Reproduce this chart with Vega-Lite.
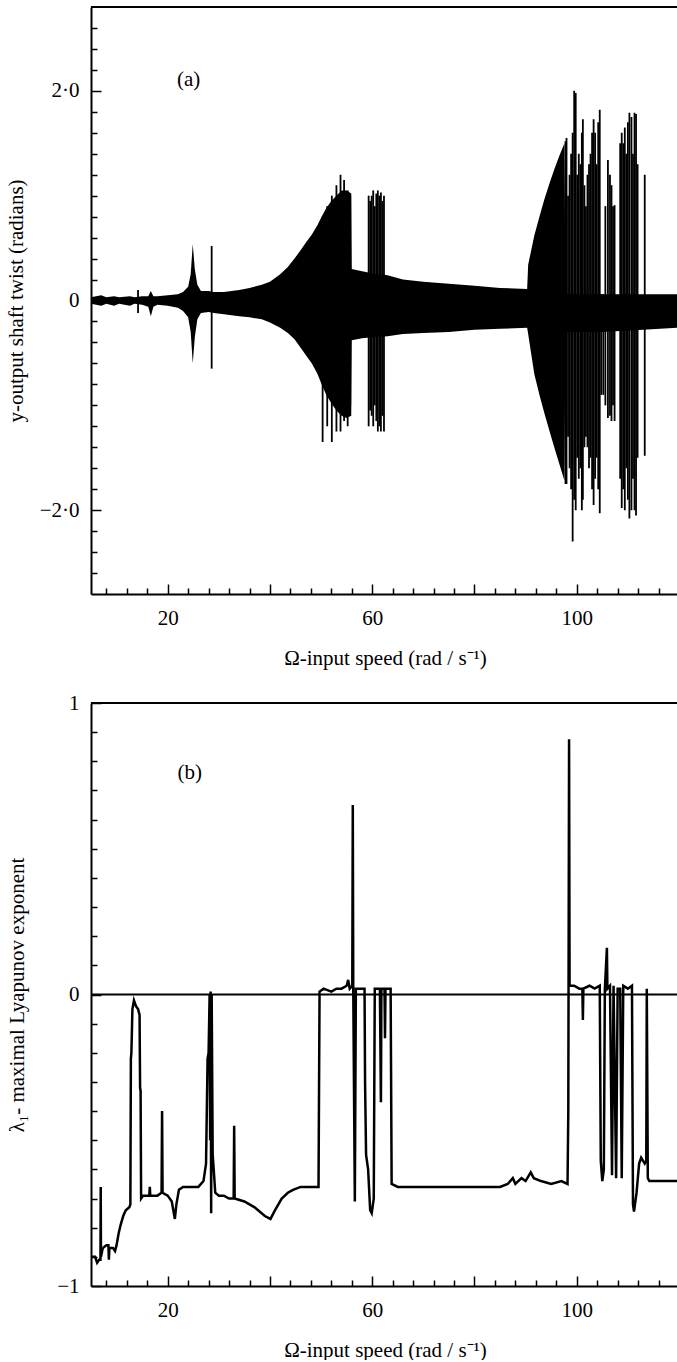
{
  "$schema": "https://vega.github.io/schema/vega-lite/v6.json",
  "background": "white",
  "padding": {"left": 5, "top": 6, "right": 0, "bottom": 0},
  "spacing": 24,
  "config": {
    "view": {"stroke": null},
    "font": "Liberation Serif",
    "axis": {
      "grid": false,
      "domainColor": "black",
      "domainWidth": 2,
      "tickColor": "black",
      "tickWidth": 1.5,
      "labelColor": "black",
      "labelFont": "Liberation Serif",
      "labelFontSize": 21,
      "labelOverlap": false,
      "labelFlush": false,
      "titleColor": "black",
      "titleFont": "Liberation Serif",
      "titleFontSize": 21,
      "titleFontWeight": "normal"
    }
  },
  "datasets": {
    "env": [
      {"x": 5, "lo": -0.03, "hi": 0.03},
      {"x": 6, "lo": -0.04, "hi": 0.04},
      {"x": 7, "lo": -0.05, "hi": 0.05},
      {"x": 8, "lo": -0.03, "hi": 0.03},
      {"x": 9.5, "lo": -0.05, "hi": 0.04},
      {"x": 10.5, "lo": -0.03, "hi": 0.03},
      {"x": 12.6, "lo": -0.05, "hi": 0.04},
      {"x": 13.5, "lo": -0.03, "hi": 0.03},
      {"x": 15, "lo": -0.04, "hi": 0.04},
      {"x": 16.2, "lo": -0.06, "hi": 0.04},
      {"x": 16.7, "lo": -0.15, "hi": 0.09},
      {"x": 17.2, "lo": -0.06, "hi": 0.04},
      {"x": 18, "lo": -0.04, "hi": 0.04},
      {"x": 20, "lo": -0.05, "hi": 0.05},
      {"x": 22, "lo": -0.07, "hi": 0.06},
      {"x": 23, "lo": -0.1, "hi": 0.08},
      {"x": 24, "lo": -0.16, "hi": 0.13},
      {"x": 24.5, "lo": -0.3, "hi": 0.25},
      {"x": 24.9, "lo": -0.6, "hi": 0.54},
      {"x": 25.3, "lo": -0.35, "hi": 0.3},
      {"x": 25.8, "lo": -0.18, "hi": 0.15},
      {"x": 26.5, "lo": -0.12, "hi": 0.09},
      {"x": 28, "lo": -0.11, "hi": 0.09},
      {"x": 29, "lo": -0.12, "hi": 0.08},
      {"x": 31, "lo": -0.13, "hi": 0.08},
      {"x": 34, "lo": -0.15, "hi": 0.1},
      {"x": 36, "lo": -0.16, "hi": 0.12},
      {"x": 38.4, "lo": -0.18, "hi": 0.15},
      {"x": 40, "lo": -0.21, "hi": 0.18},
      {"x": 42, "lo": -0.26, "hi": 0.25},
      {"x": 43.5, "lo": -0.31, "hi": 0.32},
      {"x": 44.8, "lo": -0.37, "hi": 0.4},
      {"x": 46, "lo": -0.45, "hi": 0.48},
      {"x": 47, "lo": -0.52, "hi": 0.55},
      {"x": 48.2, "lo": -0.6, "hi": 0.63},
      {"x": 49.3, "lo": -0.7, "hi": 0.72},
      {"x": 50.1, "lo": -0.8, "hi": 0.8},
      {"x": 51, "lo": -0.9, "hi": 0.88},
      {"x": 52, "lo": -0.98, "hi": 0.95},
      {"x": 53, "lo": -1.05, "hi": 1.0},
      {"x": 54, "lo": -1.1, "hi": 1.05},
      {"x": 55, "lo": -1.12, "hi": 1.05},
      {"x": 55.9, "lo": -1.1, "hi": 1.02},
      {"x": 56, "lo": -0.38, "hi": 0.3},
      {"x": 58, "lo": -0.36, "hi": 0.28},
      {"x": 60, "lo": -0.35, "hi": 0.26},
      {"x": 63, "lo": -0.34, "hi": 0.24},
      {"x": 66, "lo": -0.32, "hi": 0.2},
      {"x": 70, "lo": -0.31, "hi": 0.18},
      {"x": 75, "lo": -0.3, "hi": 0.16},
      {"x": 80, "lo": -0.28, "hi": 0.14},
      {"x": 85, "lo": -0.27, "hi": 0.12},
      {"x": 90.3, "lo": -0.26, "hi": 0.11},
      {"x": 90.5, "lo": -0.32, "hi": 0.34},
      {"x": 91.7, "lo": -0.7, "hi": 0.62},
      {"x": 92.7, "lo": -0.9, "hi": 0.8},
      {"x": 93.7, "lo": -1.08, "hi": 0.97},
      {"x": 94.7, "lo": -1.25, "hi": 1.12},
      {"x": 95.6, "lo": -1.4, "hi": 1.25},
      {"x": 96.6, "lo": -1.56, "hi": 1.38},
      {"x": 97.6, "lo": -1.72, "hi": 1.5},
      {"x": 97.8, "lo": -0.3, "hi": 0.06},
      {"x": 105, "lo": -0.3, "hi": 0.06},
      {"x": 113, "lo": -0.28, "hi": 0.06},
      {"x": 120, "lo": -0.26, "hi": 0.06}
    ],
    "spk": [
      {"x": 14.2, "lo": -0.12, "hi": 0.1},
      {"x": 28.6, "lo": -0.65, "hi": 0.52},
      {"x": 50.3, "lo": -1.35, "hi": 0.8},
      {"x": 51.2, "lo": -1.2, "hi": 0.9},
      {"x": 52.1, "lo": -1.35, "hi": 1.0},
      {"x": 53.0, "lo": -1.25, "hi": 1.1},
      {"x": 53.8, "lo": -1.25, "hi": 1.2},
      {"x": 54.5, "lo": -1.15, "hi": 1.15},
      {"x": 55.2, "lo": -1.2, "hi": 1.05},
      {"x": 55.7, "lo": -1.0, "hi": 1.0},
      {"x": 59.3, "lo": -1.2, "hi": 1.0},
      {"x": 59.6, "lo": -1.05, "hi": 0.95},
      {"x": 59.9, "lo": -1.1, "hi": 1.0},
      {"x": 60.2, "lo": -1.2, "hi": 1.05},
      {"x": 60.5, "lo": -1.0, "hi": 0.9},
      {"x": 60.8, "lo": -1.15, "hi": 1.02},
      {"x": 61.1, "lo": -1.25, "hi": 1.05},
      {"x": 61.4, "lo": -1.2, "hi": 1.0},
      {"x": 61.7, "lo": -1.25, "hi": 1.03},
      {"x": 62.0, "lo": -1.1, "hi": 0.95},
      {"x": 62.3, "lo": -1.25, "hi": 1.0},
      {"x": 97.8, "lo": -1.75, "hi": 1.52},
      {"x": 98.0, "lo": -1.75, "hi": 1.55},
      {"x": 98.3, "lo": -1.3, "hi": 1.0},
      {"x": 98.6, "lo": -1.6, "hi": 1.2},
      {"x": 98.9, "lo": -1.8, "hi": 1.4},
      {"x": 99.2, "lo": -2.3, "hi": 1.6},
      {"x": 99.5, "lo": -1.9, "hi": 2.0},
      {"x": 99.8, "lo": -2.0, "hi": 1.98},
      {"x": 100.1, "lo": -1.5, "hi": 1.2},
      {"x": 100.4, "lo": -1.7, "hi": 1.4},
      {"x": 100.7, "lo": -1.6, "hi": 1.3},
      {"x": 101.0, "lo": -2.0, "hi": 1.6},
      {"x": 101.2, "lo": -1.9, "hi": 1.73},
      {"x": 101.5, "lo": -1.4, "hi": 1.1},
      {"x": 101.8, "lo": -1.3, "hi": 0.9},
      {"x": 102.1, "lo": -1.4, "hi": 1.2},
      {"x": 102.4, "lo": -1.6, "hi": 1.3},
      {"x": 102.7, "lo": -1.5, "hi": 1.4},
      {"x": 103.0, "lo": -1.8, "hi": 1.6},
      {"x": 103.3, "lo": -1.95, "hi": 1.73},
      {"x": 103.6, "lo": -1.7, "hi": 1.6},
      {"x": 103.9, "lo": -1.5, "hi": 1.3},
      {"x": 104.2, "lo": -1.8, "hi": 1.7},
      {"x": 104.5, "lo": -2.03, "hi": 1.82},
      {"x": 104.8, "lo": -0.9, "hi": 0.06},
      {"x": 105.2, "lo": -0.9, "hi": 0.06},
      {"x": 105.6, "lo": -1.0, "hi": 0.9},
      {"x": 106.1, "lo": -1.12, "hi": 1.34},
      {"x": 106.5, "lo": -1.1, "hi": 1.2},
      {"x": 106.8, "lo": -1.15, "hi": 1.1},
      {"x": 107.1, "lo": -1.0, "hi": 0.9},
      {"x": 107.4, "lo": -1.15, "hi": 0.91},
      {"x": 108.5, "lo": -1.7, "hi": 1.5},
      {"x": 108.8, "lo": -1.98, "hi": 1.6},
      {"x": 109.1, "lo": -1.8, "hi": 1.5},
      {"x": 109.4, "lo": -2.0, "hi": 1.65},
      {"x": 109.7, "lo": -1.6, "hi": 1.4},
      {"x": 110.0, "lo": -1.9, "hi": 1.7},
      {"x": 110.3, "lo": -2.08, "hi": 1.79},
      {"x": 110.7, "lo": -2.0, "hi": 1.75},
      {"x": 111.0, "lo": -1.7, "hi": 1.4},
      {"x": 111.3, "lo": -2.0, "hi": 1.79},
      {"x": 111.6, "lo": -2.05, "hi": 1.78},
      {"x": 111.9, "lo": -1.5, "hi": 1.3},
      {"x": 113.3, "lo": -1.48, "hi": 1.2}
    ],
    "lyap": [
      {"x": 5.0, "y": -0.9}, {"x": 5.8, "y": -0.9}, {"x": 6.2, "y": -0.92}, {"x": 6.6, "y": -0.91},
      {"x": 6.85, "y": -0.91}, {"x": 6.9, "y": -0.66}, {"x": 6.95, "y": -0.9}, {"x": 7.3, "y": -0.87},
      {"x": 8.0, "y": -0.86}, {"x": 8.4, "y": -0.86}, {"x": 8.5, "y": -0.91}, {"x": 8.6, "y": -0.87},
      {"x": 9.3, "y": -0.87}, {"x": 9.7, "y": -0.88}, {"x": 10.0, "y": -0.86}, {"x": 10.4, "y": -0.82},
      {"x": 10.8, "y": -0.79}, {"x": 11.3, "y": -0.76}, {"x": 11.8, "y": -0.74}, {"x": 12.5, "y": -0.73},
      {"x": 12.7, "y": -0.72}, {"x": 12.8, "y": -0.22}, {"x": 12.9, "y": -0.2}, {"x": 13.1, "y": -0.05},
      {"x": 13.4, "y": -0.02}, {"x": 13.8, "y": -0.04}, {"x": 14.2, "y": -0.05}, {"x": 14.5, "y": -0.07},
      {"x": 14.6, "y": -0.32}, {"x": 14.7, "y": -0.33}, {"x": 14.8, "y": -0.7}, {"x": 15.2, "y": -0.69},
      {"x": 16.0, "y": -0.69}, {"x": 16.4, "y": -0.69}, {"x": 16.5, "y": -0.66}, {"x": 16.6, "y": -0.69},
      {"x": 18.0, "y": -0.69}, {"x": 18.8, "y": -0.68}, {"x": 18.9, "y": -0.4}, {"x": 19.0, "y": -0.68},
      {"x": 20.0, "y": -0.69}, {"x": 20.8, "y": -0.71}, {"x": 21.4, "y": -0.77}, {"x": 21.7, "y": -0.72},
      {"x": 22.2, "y": -0.67}, {"x": 23.0, "y": -0.66}, {"x": 26.0, "y": -0.66}, {"x": 27.0, "y": -0.64},
      {"x": 27.5, "y": -0.58}, {"x": 27.8, "y": -0.22}, {"x": 28.0, "y": -0.2}, {"x": 28.2, "y": 0.0},
      {"x": 28.3, "y": -0.5}, {"x": 28.4, "y": 0.01}, {"x": 28.5, "y": -0.75}, {"x": 28.6, "y": 0.0},
      {"x": 28.8, "y": -0.55}, {"x": 29.0, "y": -0.6}, {"x": 29.3, "y": -0.68}, {"x": 30.0, "y": -0.69},
      {"x": 31.0, "y": -0.69}, {"x": 32.0, "y": -0.7}, {"x": 32.9, "y": -0.7}, {"x": 33.0, "y": -0.45},
      {"x": 33.1, "y": -0.7}, {"x": 35.0, "y": -0.71}, {"x": 37.0, "y": -0.73}, {"x": 39.0, "y": -0.76},
      {"x": 40.1, "y": -0.77}, {"x": 41.0, "y": -0.74}, {"x": 42.3, "y": -0.7}, {"x": 43.5, "y": -0.68},
      {"x": 44.5, "y": -0.67}, {"x": 46.0, "y": -0.66}, {"x": 47.2, "y": -0.66}, {"x": 49.5, "y": -0.66},
      {"x": 49.7, "y": 0.01}, {"x": 50.5, "y": 0.02}, {"x": 52.0, "y": 0.01}, {"x": 53.0, "y": 0.02},
      {"x": 54.0, "y": 0.02}, {"x": 55.0, "y": 0.03}, {"x": 55.3, "y": 0.05}, {"x": 55.6, "y": 0.02},
      {"x": 56.1, "y": 0.03}, {"x": 56.2, "y": 0.65}, {"x": 56.3, "y": 0.0}, {"x": 56.6, "y": -0.71},
      {"x": 56.8, "y": 0.02}, {"x": 57.5, "y": 0.02}, {"x": 58.5, "y": 0.02}, {"x": 58.6, "y": -0.3},
      {"x": 58.8, "y": -0.55}, {"x": 59.2, "y": -0.6}, {"x": 59.6, "y": -0.74}, {"x": 59.9, "y": -0.75},
      {"x": 60.3, "y": -0.7}, {"x": 60.5, "y": 0.02}, {"x": 61.5, "y": 0.02}, {"x": 61.7, "y": -0.37},
      {"x": 61.8, "y": 0.02}, {"x": 62.4, "y": 0.02}, {"x": 62.5, "y": -0.15}, {"x": 62.6, "y": 0.02},
      {"x": 63.6, "y": 0.02}, {"x": 63.8, "y": -0.65}, {"x": 65, "y": -0.66}, {"x": 70, "y": -0.66},
      {"x": 75, "y": -0.66}, {"x": 80, "y": -0.66}, {"x": 85, "y": -0.66}, {"x": 86.5, "y": -0.65},
      {"x": 87.5, "y": -0.63}, {"x": 88, "y": -0.65}, {"x": 89.2, "y": -0.63}, {"x": 90, "y": -0.64},
      {"x": 91, "y": -0.61}, {"x": 91.6, "y": -0.63}, {"x": 93, "y": -0.64}, {"x": 95, "y": -0.65},
      {"x": 97, "y": -0.64}, {"x": 98.2, "y": -0.65}, {"x": 98.35, "y": -0.4}, {"x": 98.5, "y": 0.876},
      {"x": 98.6, "y": 0.03}, {"x": 99.5, "y": 0.03}, {"x": 100.5, "y": 0.02}, {"x": 101.1, "y": 0.02},
      {"x": 101.2, "y": -0.087}, {"x": 101.3, "y": 0.02}, {"x": 102.5, "y": 0.03}, {"x": 103.5, "y": 0.02},
      {"x": 104.5, "y": 0.03}, {"x": 104.7, "y": -0.57}, {"x": 105.0, "y": -0.64}, {"x": 105.3, "y": -0.6},
      {"x": 105.5, "y": 0.02}, {"x": 105.9, "y": 0.16}, {"x": 106.0, "y": 0.02}, {"x": 106.5, "y": 0.03},
      {"x": 106.9, "y": -0.62}, {"x": 107.2, "y": 0.03}, {"x": 107.7, "y": -0.63}, {"x": 108.0, "y": 0.02},
      {"x": 108.5, "y": 0.02}, {"x": 108.8, "y": -0.63}, {"x": 109.1, "y": 0.03}, {"x": 110.0, "y": 0.02},
      {"x": 110.8, "y": 0.03}, {"x": 111.0, "y": -0.72}, {"x": 111.2, "y": -0.745}, {"x": 111.7, "y": -0.68},
      {"x": 112.2, "y": -0.58}, {"x": 112.6, "y": -0.56}, {"x": 113.3, "y": -0.58}, {"x": 113.6, "y": -0.57},
      {"x": 113.7, "y": 0.02}, {"x": 113.9, "y": -0.63}, {"x": 114.2, "y": -0.64}, {"x": 116, "y": -0.64},
      {"x": 118, "y": -0.64}, {"x": 120, "y": -0.64}
    ]
  },
  "vconcat": [
    {
      "width": 588,
      "height": 587,
      "layer": [
        {
          "data": {"name": "env"},
          "mark": {"type": "area", "color": "black", "interpolate": "linear"},
          "encoding": {
            "x": {
              "field": "x", "type": "quantitative",
              "scale": {"domain": [5, 120], "nice": false, "zero": false},
              "axis": {
                "orient": "bottom",
                "values": [8, 12, 16, 20, 24, 28, 32, 36, 40, 44, 48, 52, 56, 60, 64, 68, 72, 76, 80, 84, 88, 92, 96, 100, 104, 108, 112, 116, 120],
                "tickCount": 200,
                "labelExpr": "datum.value == 20 ? '20' : datum.value == 60 ? '60' : datum.value == 100 ? '100' : ''",
                "labelOverlap": false,
                "tickSize": {"condition": {"test": "datum.value % 20 == 0", "value": -10}, "value": -6},
                "labelPadding": 23,
                "title": "Ω-input speed (rad / s⁻¹)",
                "titlePadding": 15
              }
            },
            "y": {
              "field": "lo", "type": "quantitative",
              "scale": {"domain": [-2.8, 2.8], "nice": false, "zero": false},
              "axis": {
                "values": [-2.6, -2.4, -2.2, -2, -1.8, -1.6, -1.4, -1.2, -1, -0.8, -0.6, -0.4, -0.2, 0, 0.2, 0.4, 0.6, 0.8, 1, 1.2, 1.4, 1.6, 1.8, 2, 2.2, 2.4, 2.6],
                "tickCount": 200,
                "labelExpr": "datum.value == 2 ? '2·0' : datum.value == 0 ? '0' : datum.value == -2 ? '−2·0' : ''",
                "labelOverlap": false,
                "tickSize": {"condition": {"test": "datum.value == 0 || abs(datum.value) == 2", "value": -10}, "value": -6},
                "labelPadding": 22,
                "title": "y-output shaft twist (radians)",
                "titlePadding": 13
              }
            },
            "y2": {"field": "hi"}
          }
        },
        {
          "data": {"name": "spk"},
          "mark": {"type": "rule", "color": "black", "strokeWidth": 1.8},
          "encoding": {
            "x": {"field": "x", "type": "quantitative"},
            "y": {"field": "lo", "type": "quantitative"},
            "y2": {"field": "hi"}
          }
        },
        {
          "data": {"values": [{"lo": 2.8}]},
          "mark": {"type": "rule", "color": "black", "strokeWidth": 2},
          "encoding": {
            "y": {"field": "lo", "type": "quantitative"}
          }
        },
        {
          "data": {"values": [{"x": 24.1, "lo": 2.1, "t": "(a)"}]},
          "mark": {"type": "text", "font": "Liberation Serif", "fontSize": 21, "color": "black"},
          "encoding": {
            "x": {"field": "x", "type": "quantitative"},
            "y": {"field": "lo", "type": "quantitative"},
            "text": {"field": "t"}
          }
        }
      ]
    },
    {
      "width": 588,
      "height": 583,
      "layer": [
        {
          "data": {"name": "lyap"},
          "mark": {"type": "line", "color": "black", "strokeWidth": 2.5, "interpolate": "linear"},
          "encoding": {
            "x": {
              "field": "x", "type": "quantitative",
              "scale": {"domain": [5, 120], "nice": false, "zero": false},
              "axis": {
                "orient": "bottom",
                "values": [8, 12, 16, 20, 24, 28, 32, 36, 40, 44, 48, 52, 56, 60, 64, 68, 72, 76, 80, 84, 88, 92, 96, 100, 104, 108, 112, 116, 120],
                "tickCount": 200,
                "labelExpr": "datum.value == 20 ? '20' : datum.value == 60 ? '60' : datum.value == 100 ? '100' : ''",
                "labelOverlap": false,
                "tickSize": {"condition": {"test": "datum.value % 20 == 0", "value": -10}, "value": -6},
                "labelPadding": 23,
                "title": "Ω-input speed (rad / s⁻¹)",
                "titlePadding": 15
              }
            },
            "y": {
              "field": "y", "type": "quantitative",
              "scale": {"domain": [-1, 1], "nice": false, "zero": false},
              "axis": {
                "values": [-1, -0.9, -0.8, -0.7, -0.6, -0.5, -0.4, -0.3, -0.2, -0.1, 0, 0.1, 0.2, 0.3, 0.4, 0.5, 0.6, 0.7, 0.8, 0.9, 1],
                "tickCount": 200,
                "labelExpr": "datum.value == 1 ? '1' : datum.value == 0 ? '0' : datum.value == -1 ? '−1' : ''",
                "labelOverlap": false,
                "tickSize": {"condition": {"test": "datum.value == 0 || abs(datum.value) == 1", "value": -10}, "value": -6},
                "labelPadding": 22,
                "title": "λ₁- maximal Lyapunov exponent",
                "titlePadding": 29
              }
            }
          }
        },
        {
          "data": {"values": [{"y": 0}]},
          "mark": {"type": "rule", "color": "black", "strokeWidth": 2},
          "encoding": {
            "y": {"field": "y", "type": "quantitative"}
          }
        },
        {
          "data": {"values": [{"y": 1}]},
          "mark": {"type": "rule", "color": "black", "strokeWidth": 2},
          "encoding": {
            "y": {"field": "y", "type": "quantitative"}
          }
        },
        {
          "data": {"values": [{"x": 24.3, "y": 0.76, "t": "(b)"}]},
          "mark": {"type": "text", "font": "Liberation Serif", "fontSize": 21, "color": "black"},
          "encoding": {
            "x": {"field": "x", "type": "quantitative"},
            "y": {"field": "y", "type": "quantitative"},
            "text": {"field": "t"}
          }
        }
      ]
    }
  ]
}
